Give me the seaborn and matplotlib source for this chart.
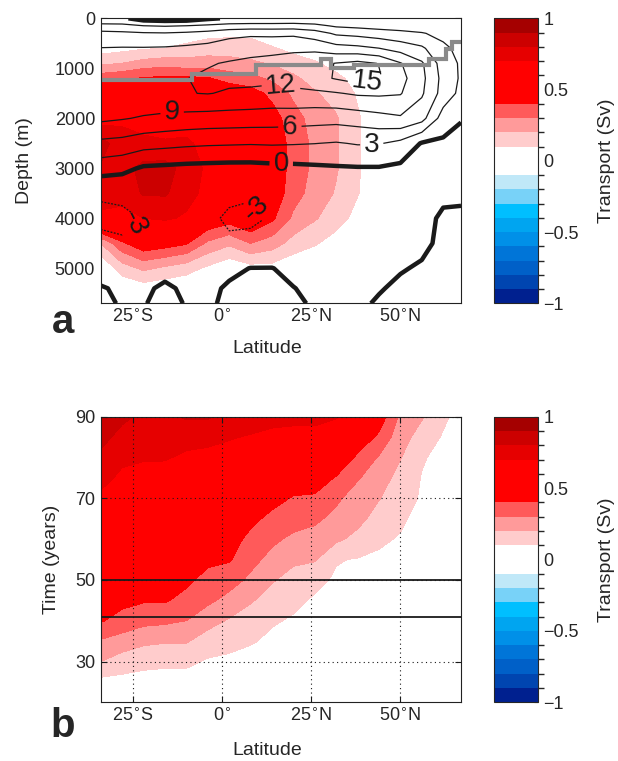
import numpy as np
import matplotlib
matplotlib.use("Agg")
import matplotlib.pyplot as plt
from matplotlib.colors import ListedColormap, BoundaryNorm
from matplotlib.cm import ScalarMappable
import seaborn as sns

# ---------------- data ----------------
lat_grid = [-34, -28, -22, -16, -10, -4, 2, 8, 14, 20, 26, 32, 38, 44, 50, 56, 62, 67]
depth_grid = [0, 150, 300, 600, 900, 1200, 1500, 2000, 2500, 3000, 3500, 4000,
              4500, 5000, 5400, 5700]

# panel a: transport anomaly (Sv), one row per latitude, values down the depth grid
transport_a = [
    [0, 0, 0, 0.05, 0.18, 0.36, 0.60, 0.65, 0.84, 0.79, 0.74, 0.68, 0.20, 0, 0, 0],
    [0, 0, 0, 0.07, 0.20, 0.38, 0.60, 0.68, 0.74, 0.76, 0.74, 0.66, 0.38, 0.15, 0.02, 0],
    [0, 0, 0, 0.09, 0.24, 0.41, 0.60, 0.66, 0.72, 0.83, 0.81, 0.70, 0.48, 0.22, 0.05, 0],
    [0, 0, 0.02, 0.10, 0.26, 0.42, 0.60, 0.65, 0.71, 0.84, 0.81, 0.72, 0.45, 0.18, 0.03, 0],
    [0, 0, 0.04, 0.13, 0.24, 0.42, 0.58, 0.64, 0.72, 0.76, 0.75, 0.68, 0.41, 0.14, 0.02, 0],
    [0, 0.02, 0.07, 0.15, 0.25, 0.41, 0.55, 0.62, 0.66, 0.68, 0.66, 0.50, 0.28, 0.08, 0, 0],
    [0, 0.03, 0.08, 0.15, 0.24, 0.35, 0.50, 0.60, 0.62, 0.62, 0.60, 0.45, 0.22, 0.02, 0, 0],
    [0, 0.03, 0.08, 0.14, 0.22, 0.33, 0.45, 0.56, 0.60, 0.60, 0.58, 0.52, 0.30, 0.06, 0, 0],
    [0, 0.01, 0.04, 0.11, 0.19, 0.28, 0.37, 0.45, 0.50, 0.50, 0.48, 0.42, 0.25, 0.06, 0, 0],
    [0, 0, 0, 0.07, 0.15, 0.22, 0.28, 0.34, 0.35, 0.35, 0.34, 0.28, 0.16, 0.02, 0, 0],
    [0, 0, 0, 0.05, 0.11, 0.16, 0.21, 0.26, 0.28, 0.28, 0.26, 0.21, 0.11, 0.01, 0, 0],
    [0, 0, 0, 0.02, 0.07, 0.12, 0.16, 0.21, 0.21, 0.21, 0.19, 0.14, 0.06, 0, 0, 0],
    [0, 0, 0, 0, 0.03, 0.07, 0.09, 0.11, 0.11, 0.11, 0.105, 0.07, 0.02, 0, 0, 0],
    [0, 0, 0, 0, 0.01, 0.02, 0.03, 0.04, 0.04, 0.04, 0.03, 0.02, 0, 0, 0, 0],
    [0] * 16,
    [0] * 16,
    [0] * 16,
    [0] * 16,
]

# panel a: overturning streamfunction (Sv), one row per latitude
overturning_a = [
    [0.3, 4.0, 6.8, 9.1, 10.3, 11.0, 10.8, 9.6, 5.3, 1.3, -2.8, -3.4, -2.5, -1.2, 0.2, 0.5],
    [0.5, 3.8, 6.6, 9.2, 10.6, 11.3, 11.1, 9.2, 5.0, 0.8, -2.6, -3.4, -2.8, -1.3, -0.4, -0.2],
    [-1.2, 3.05, 6.3, 9.2, 10.8, 11.6, 11.4, 8.7, 4.2, -0.4, -2.4, -2.9, -2.6, -1.3, -0.3, -0.1],
    [-1.5, 2.8, 6.2, 9.3, 11.0, 11.8, 11.6, 8.3, 3.9, -0.6, -2.0, -2.6, -2.2, -0.6, 0.3, 0.5],
    [-1.4, 3.05, 6.5, 9.6, 11.3, 11.95, 11.9, 8.0, 3.6, -0.8, -1.9, -2.5, -2.2, -1.1, -0.3, -0.1],
    [-0.4, 3.5, 7.0, 10.0, 11.8, 12.4, 12.1, 7.8, 3.4, -0.9, -2.2, -2.6, -2.2, -1.0, -0.5, -0.3],
    [0.3, 4.0, 8.0, 10.8, 12.2, 12.6, 11.7, 7.7, 3.3, -1.0, -2.6, -3.3, -2.7, -0.5, 0.3, 0.4],
    [0.3, 4.2, 8.4, 11.2, 12.5, 12.7, 11.5, 7.6, 3.2, -1.0, -2.8, -3.4, -2.4, 0.05, 0.5, 0.6],
    [0.3, 4.2, 8.3, 11.3, 12.8, 12.6, 11.2, 7.5, 3.3, -0.8, -2.3, -2.8, -1.8, 0.05, 0.4, 0.5],
    [0.4, 4.3, 8.4, 11.5, 13.2, 13.0, 11.4, 7.4, 3.2, -0.7, -2.0, -2.2, -1.2, -0.5, 0.05, 0.3],
    [0.4, 3.8, 7.4, 11.3, 14.2, 14.2, 11.4, 7.2, 3.05, -0.5, -1.6, -1.8, -1.0, -0.8, -0.4, -0.2],
    [0.4, 2.6, 5.5, 10.2, 15.1, 15.2, 11.8, 7.05, 2.8, -0.3, -1.2, -1.4, -0.8, -0.9, -0.5, -0.3],
    [0.3, 2.2, 5.05, 9.8, 15.8, 16.2, 12.4, 7.4, 3.2, -0.2, -0.8, -1.0, -1.0, -0.8, -0.6, -0.5],
    [0.2, 1.8, 4.4, 9.05, 14.9, 15.3, 12.5, 8.0, 3.2, -0.2, -0.6, -0.9, -1.0, -0.6, -0.2, 0.3],
    [0.2, 1.6, 3.8, 7.8, 12.2, 13.0, 12.2, 8.6, 2.2, -0.6, -0.8, -1.0, -1.0, -0.2, 0.5, 1.0],
    [0.2, 1.4, 3.2, 6.5, 9.4, 9.8, 9.4, 7.05, -0.2, -0.6, -0.8, -0.6, -0.6, 0.3, 0.8, 1.0],
    [0.2, 1.2, 2.2, 3.6, 4.6, 5.05, 4.8, 1.6, -0.5, -0.6, -0.4, 0.3, 0.6, 0.8, 1.0, 1.0],
    [0.1, 0.8, 1.4, 2.2, 2.6, 2.6, 2.2, 0.1, -0.5, -0.6, -0.3, 0.3, 0.6, 0.8, 1.0, 1.0],
]

# grey stepped boundary in panel a (drawn as steps-post)
gray_lat = [-34, -8.4, 9.5, 27.7, 30.5, 37, 58, 62.7, 64.5, 67]
gray_depth = [1240, 1107, 940, 820, 1000, 925, 820, 620, 470, 470]

# panel b: transport (Sv) vs latitude and time, one row per latitude
years_grid = [20, 25, 30, 35, 40, 45, 50, 55, 60, 65, 70, 75, 80, 85, 90]
transport_b = [
    [0, 0.07, 0.20, 0.29, 0.41, 0.46, 0.50, 0.55, 0.59, 0.63, 0.68, 0.73, 0.78, 0.83, 0.88],
    [0, 0.07, 0.15, 0.26, 0.36, 0.43, 0.47, 0.51, 0.55, 0.59, 0.64, 0.68, 0.72, 0.77, 0.82],
    [0, 0.06, 0.13, 0.22, 0.33, 0.41, 0.45, 0.50, 0.54, 0.58, 0.62, 0.66, 0.71, 0.75, 0.78],
    [0, 0.06, 0.12, 0.21, 0.32, 0.41, 0.45, 0.49, 0.53, 0.57, 0.61, 0.65, 0.71, 0.74, 0.78],
    [0, 0.06, 0.12, 0.21, 0.30, 0.37, 0.42, 0.47, 0.51, 0.55, 0.60, 0.64, 0.68, 0.74, 0.81],
    [0, 0.04, 0.09, 0.15, 0.24, 0.32, 0.37, 0.42, 0.47, 0.52, 0.57, 0.62, 0.67, 0.73, 0.81],
    [0, 0.04, 0.08, 0.13, 0.19, 0.27, 0.34, 0.41, 0.45, 0.50, 0.55, 0.60, 0.65, 0.71, 0.77],
    [0, 0.03, 0.06, 0.11, 0.15, 0.21, 0.28, 0.33, 0.37, 0.43, 0.49, 0.56, 0.62, 0.69, 0.76],
    [0, 0.03, 0.05, 0.08, 0.11, 0.16, 0.21, 0.27, 0.32, 0.37, 0.44, 0.51, 0.59, 0.66, 0.75],
    [0, 0.02, 0.04, 0.06, 0.09, 0.12, 0.16, 0.22, 0.28, 0.34, 0.39, 0.47, 0.56, 0.65, 0.74],
    [0, 0.02, 0.03, 0.05, 0.07, 0.09, 0.12, 0.21, 0.26, 0.32, 0.38, 0.47, 0.56, 0.65, 0.74],
    [0, 0.01, 0.03, 0.04, 0.06, 0.07, 0.09, 0.105, 0.22, 0.27, 0.32, 0.39, 0.50, 0.61, 0.71],
    [0, 0.01, 0.03, 0.04, 0.06, 0.07, 0.08, 0.095, 0.17, 0.23, 0.25, 0.31, 0.38, 0.47, 0.55],
    [0, 0.01, 0.03, 0.04, 0.05, 0.07, 0.08, 0.09, 0.11, 0.16, 0.205, 0.24, 0.29, 0.38, 0.46],
    [0, 0.01, 0.02, 0.04, 0.05, 0.06, 0.07, 0.08, 0.095, 0.11, 0.14, 0.17, 0.205, 0.24, 0.28],
    [0, 0.01, 0.02, 0.03, 0.03, 0.04, 0.05, 0.06, 0.07, 0.08, 0.09, 0.095, 0.11, 0.16, 0.21],
    [0, 0, 0.01, 0.02, 0.02, 0.03, 0.03, 0.04, 0.04, 0.05, 0.06, 0.06, 0.07, 0.09, 0.12],
    [0, 0, 0, 0.01, 0.01, 0.01, 0.02, 0.02, 0.02, 0.03, 0.03, 0.04, 0.04, 0.05, 0.06],
]
marker_years = [41, 50]

# labels / ticks
lat_ticks = [-25, 0, 25, 50]
lat_ticklabels = [r"25$^{\circ}$S", r"0$^{\circ}$", r"25$^{\circ}$N", r"50$^{\circ}$N"]
depth_ticks = [0, 1000, 2000, 3000, 4000, 5000]
year_ticks = [30, 50, 70, 90]
cbar_ticks = [-1, -0.5, 0, 0.5, 1]
cbar_ticklabels = ["\u22121", "\u22120.5", "0", "0.5", "1"]
psi_pos_levels = [3, 6, 9, 12, 15]
psi_neg_levels = [-3]
psi_zero_level = [0]
label_pos_pos = [(16.6, 1310), (40.6, 1250), (-14, 1870), (19, 2110), (42, 2515)]
label_pos_neg = [(-22.5, 4225), (11, 3720)]
label_pos_zero = [(16.6, 2880)]

# colour scale: 20 bands from -1 to 1
levels = np.round(np.linspace(-1, 1, 21), 2)
band_colors = ['#00208f', '#0045b0', '#0060c8', '#0075d8', '#0090e8', '#00a5f0',
               '#00bfff', '#78d2f8', '#c0e8f8', '#ffffff', '#ffffff', '#ffcccc',
               '#ff9a9a', '#ff5a5a', '#ff0000', '#ff0000', '#ff0000', '#e60000',
               '#cc0000', '#a50000']
fill_levels = [-1.0, -0.9, -0.8, -0.7, -0.6, -0.5, -0.4, -0.3, -0.2, -0.1,
               0.1, 0.2, 0.3, 0.4, 0.7, 0.8, 0.9, 1.0]

# ---------------- styling ----------------
sns.set_theme(style="ticks")
plt.rcParams['font.family'] = ['Liberation Sans', 'DejaVu Sans']
plt.rcParams['axes.linewidth'] = 0.8

cmap = ListedColormap(sns.color_palette(band_colors))
norm = BoundaryNorm(levels, cmap.N)

fig = plt.figure(figsize=(6.18, 7.61), dpi=100)
ax_a = fig.add_axes([0.163, 0.6014, 0.583, 0.3745])
cax_a = fig.add_axes([0.7994, 0.6014, 0.0712, 0.3745])
ax_b = fig.add_axes([0.163, 0.0771, 0.583, 0.3753])
cax_b = fig.add_axes([0.7994, 0.0771, 0.0712, 0.3753])

LAT, DEP = np.meshgrid(lat_grid, depth_grid)
T_a = np.array(transport_a).T
PSI = np.array(overturning_a).T

# ---------------- panel a ----------------
ax_a.contourf(LAT, DEP, T_a, levels=fill_levels, cmap=cmap, norm=norm,
              antialiased=False)
cs_pos = ax_a.contour(LAT, DEP, PSI, levels=psi_pos_levels, colors='k',
                      linewidths=0.9, linestyles='solid')
cs_neg = ax_a.contour(LAT, DEP, PSI, levels=psi_neg_levels, colors='k',
                      linewidths=0.9, linestyles=[(0, (1.5, 1.2))])
cs_zero = ax_a.contour(LAT, DEP, PSI, levels=psi_zero_level, colors='k',
                       linewidths=3.2, linestyles='solid')
ax_a.plot(gray_lat, gray_depth, drawstyle='steps-post', color='#8a8a8a', lw=3,
          solid_joinstyle='miter')
lab_kw = dict(inline=True, fontsize=20, fmt='%d', inline_spacing=4)
ax_a.clabel(cs_pos, manual=label_pos_pos, **lab_kw)
ax_a.clabel(cs_neg, manual=label_pos_neg, **lab_kw)
ax_a.clabel(cs_zero, manual=label_pos_zero, **lab_kw)

ax_a.set_xlim(lat_grid[0], lat_grid[-1])
ax_a.set_ylim(depth_grid[-1], depth_grid[0])
ax_a.set_yticks(depth_ticks)
ax_a.set_ylabel("Depth (m)", fontsize=14)
ax_a.yaxis.set_label_coords(-0.188, 0.5)

# ---------------- panel b ----------------
LATB, YRS = np.meshgrid(lat_grid, years_grid)
T_b = np.array(transport_b).T
ax_b.contourf(LATB, YRS, T_b, levels=fill_levels, cmap=cmap, norm=norm,
              antialiased=False)
for yr in marker_years:
    ax_b.axhline(yr, color='k', lw=1.3, zorder=3)
ax_b.set_xlim(lat_grid[0], lat_grid[-1])
ax_b.set_ylim(years_grid[0], years_grid[-1])
ax_b.set_yticks(year_ticks)
ax_b.grid(True, linestyle=(0, (1, 3)), color='k', linewidth=0.8)
ax_b.set_axisbelow(False)
ax_b.set_ylabel("Time (years)", fontsize=14)
ax_b.yaxis.set_label_coords(-0.113, 0.5)

for ax, ly in ((ax_a, -0.127), (ax_b, -0.14)):
    ax.set_xticks(lat_ticks)
    ax.set_xticklabels(lat_ticklabels)
    ax.set_xlabel("Latitude", fontsize=14)
    ax.xaxis.set_label_coords(0.4635, ly)
    ax.tick_params(direction='in', length=4, width=0.8, top=True, right=True,
                   labelsize=13, pad=4, color='k')
    for sp in ax.spines.values():
        sp.set_color('#222222')

# ---------------- colourbars ----------------
for cax in (cax_a, cax_b):
    cb = fig.colorbar(ScalarMappable(norm=norm, cmap=cmap), cax=cax,
                      ticks=cbar_ticks, drawedges=False)
    cb.set_ticklabels(cbar_ticklabels)
    cb.ax.tick_params(direction='in', length=3, width=0.8, labelsize=13, pad=4)
    cb.outline.set_linewidth(0.8)
    cb.set_label("Transport (Sv)", fontsize=14)
    cb.ax.yaxis.set_label_coords(2.36, 0.5)

fig.text(0.102, 0.5624, "a", fontsize=29, fontweight='bold', ha='center', va='baseline')
fig.text(0.102, 0.0315, "b", fontsize=29, fontweight='bold', ha='center', va='baseline')

fig.savefig("out.png", dpi=100, facecolor='white')
